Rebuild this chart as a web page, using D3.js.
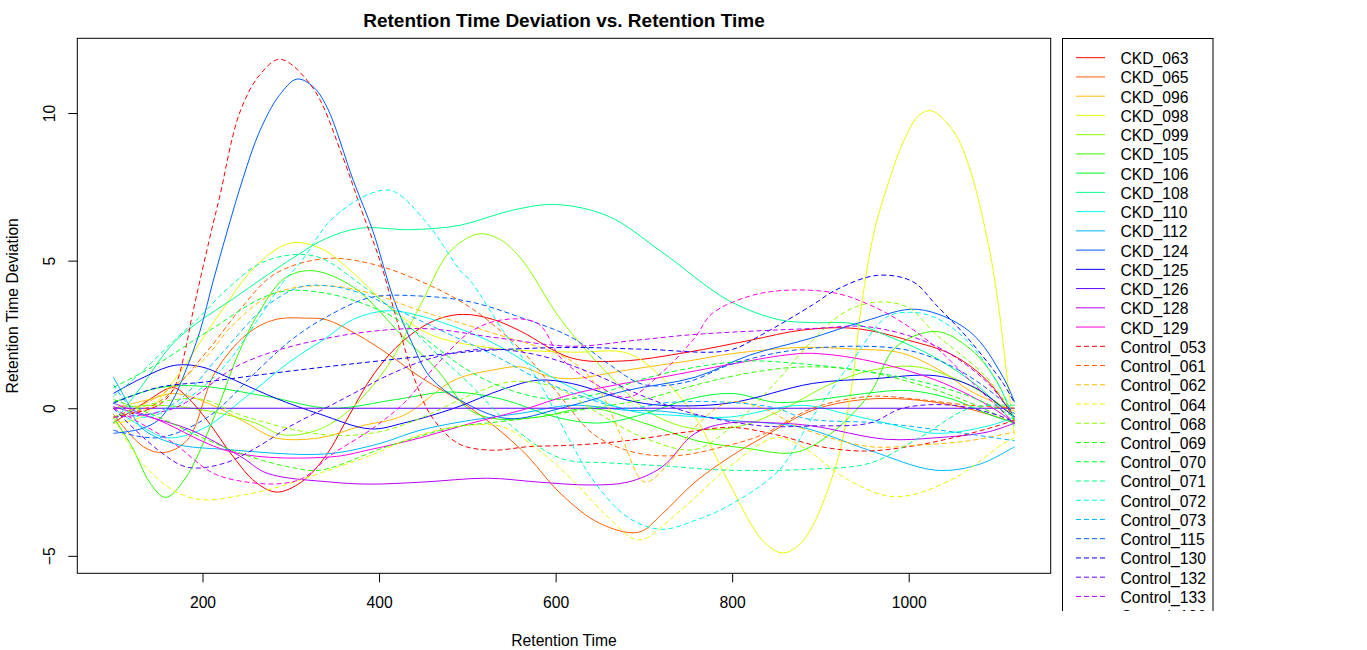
<!DOCTYPE html>
<html>
<head>
<meta charset="utf-8">
<title>Retention Time Deviation vs. Retention Time</title>
<script src="https://cdnjs.cloudflare.com/ajax/libs/d3/7.8.5/d3.min.js"></script>
<style>
    html, body { margin: 0; padding: 0; background: #fff; }
    svg { display: block; font-family: "Liberation Sans", Arial, sans-serif; }
    .curve { fill: none; stroke-width: 1; }
    .dashed { stroke-dasharray: 5, 3; }
    .frame { fill: none; stroke: #000; stroke-width: 1; }
</style>
</head>
<body>
<svg id="graph" width="1367" height="650"></svg>
<script>
/*******************************************************************
 *                              DATA                               *
 *******************************************************************/

//Raw retention time range and deviation range (before R's 4% padding)
var rtRange  = [99, 1120];
var devRange = [-4.92, 11.86];

var xTickValues = [200, 400, 600, 800, 1000];
var yTickValues = [-5, 0, 5, 10];

var ckdNames = ['CKD_063', 'CKD_065', 'CKD_096', 'CKD_098', 'CKD_099',
                'CKD_105', 'CKD_106', 'CKD_108', 'CKD_110', 'CKD_112',
                'CKD_124', 'CKD_125', 'CKD_126', 'CKD_128', 'CKD_129'];

var controlNames = ['Control_053', 'Control_061', 'Control_062', 'Control_064', 'Control_068',
                    'Control_069', 'Control_070', 'Control_071', 'Control_072', 'Control_073',
                    'Control_115', 'Control_130', 'Control_132', 'Control_133', 'Control_136'];

//[retention time, deviation], one list per CKD sample
var ckdCurves = [
    [[99,-0.5],[135,0.2],[167,0.7],[185,0.3],[205,-0.4],[235,-1.65],[260,-2.5],[284,-2.84],[312,-2.5],[340,-1.6],[365,-0.3],[395,1.2],[428,2.3],[465,3.0],[496,3.18],[530,3.0],[561,2.6],[618,1.7],[675,1.6],[750,1.9],[820,2.3],[880,2.65],[940,2.7],[1000,2.3],[1050,1.8],[1092,0.84],[1120,-0.4]],
    [[99,-0.2],[133,-1.3],[156,-1.5],[183,-1.07],[214,1.2],[250,2.5],[282,3.0],[320,3.05],[340,3.0],[375,2.5],[409,1.86],[447,1.05],[504,0.0],[561,-1.4],[606,-2.9],[650,-3.9],[694,-4.2],[720,-3.6],[758,-2.5],[800,-1.6],[834,-1.0],[891,-0.07],[950,0.3],[1000,0.3],[1050,0.1],[1090,-0.2],[1120,-0.5]],
    [[99,0.0],[140,0.3],[168,0.5],[208,0.15],[250,-0.5],[282,-1.0],[333,-1.0],[380,-0.6],[428,-0.24],[485,0.95],[530,1.3],[561,1.4],[590,1.1],[618,1.0],[682,1.3],[750,1.6],[800,1.85],[879,2.06],[940,2.0],[993,1.86],[1040,1.2],[1069,0.6],[1120,-0.1]],
    [[99,-0.5],[130,-0.3],[168,0.95],[214,2.97],[263,4.9],[301,5.6],[335,5.4],[370,4.6],[409,3.5],[458,2.5],[523,2.06],[618,1.9],[682,1.86],[720,1.05],[758,-0.3],[796,-2.5],[834,-4.46],[857,-4.9],[880,-4.5],[917,-2.0],[936,0.84],[945,3.16],[960,5.87],[975,7.45],[994,9.03],[1012,9.93],[1026,10.07],[1051,9.37],[1069,8.13],[1088,5.87],[1100,3.84],[1115,0.17],[1120,-0.9]],
    [[99,0.0],[150,0.1],[208,-0.1],[260,-0.5],[291,-0.9],[330,-0.74],[365,-0.1],[409,1.4],[447,3.5],[480,5.3],[512,5.9],[535,5.75],[560,5.1],[606,3.0],[663,1.05],[710,-0.2],[758,-0.7],[810,-0.6],[860,0.0],[910,0.8],[960,1.3],[1010,1.4],[1060,0.9],[1100,0.2],[1120,-0.3]],
    [[99,-0.3],[120,-1.3],[140,-2.5],[158,-3.02],[180,-2.4],[214,-0.24],[240,1.8],[263,3.2],[293,4.4],[324,4.66],[371,4.1],[428,2.4],[466,1.3],[500,0.0],[530,-0.35],[580,-0.3],[640,0.0],[700,-0.5],[760,-1.1],[815,-1.35],[871,-1.5],[910,-0.9],[956,0.5],[985,2.06],[1031,2.6],[1070,2.0],[1100,0.9],[1120,-0.5]],
    [[99,0.2],[152,0.7],[197,0.75],[273,0.4],[345,0.0],[420,0.3],[480,0.55],[540,0.3],[600,-0.3],[650,-0.5],[700,-0.2],[750,0.3],[800,0.5],[850,0.2],[900,0.3],[950,0.5],[1000,0.6],[1050,0.3],[1090,-0.2],[1120,-0.5]],
    [[99,-0.5],[130,0.7],[170,2.3],[244,3.9],[303,5.1],[340,5.75],[379,6.1],[436,6.05],[492,6.2],[550,6.7],[600,6.9],[660,6.5],[720,5.3],[796,3.65],[853,3.0],[891,2.9],[936,2.87],[980,2.4],[1031,1.7],[1088,0.5],[1120,-0.6]],
    [[99,0.0],[130,-0.6],[160,-1.0],[200,-0.7],[250,0.4],[300,1.6],[339,2.36],[370,3.0],[409,3.3],[450,3.1],[523,2.3],[570,1.5],[618,0.7],[682,-0.07],[740,-0.25],[796,-0.3],[879,0.1],[930,-0.2],[974,-0.5],[1031,-0.85],[1090,-0.6],[1120,-0.3]],
    [[99,1.05],[115,0.2],[130,-0.64],[168,-1.2],[228,-1.4],[339,-1.55],[400,-1.2],[447,-0.74],[505,-0.4],[561,-0.17],[618,0.1],[682,-0.07],[720,-0.1],[796,-0.4],[879,-0.65],[953,-1.4],[1031,-2.1],[1080,-1.9],[1120,-1.3]],
    [[99,-0.85],[130,-0.7],[150,-0.4],[165,0.2],[180,1.2],[197,2.6],[212,4.3],[228,6.0],[246,7.8],[265,9.4],[287,10.6],[307,11.15],[325,10.9],[341,10.2],[371,7.7],[393,6.0],[416,3.75],[436,2.3],[458,1.05],[492,0.27],[546,-0.35],[606,0.0],[680,0.6],[758,1.05],[820,1.8],[888,2.36],[950,2.95],[1010,3.35],[1069,2.6],[1107,1.05],[1120,0.2]],
    [[99,0.5],[130,1.0],[168,1.45],[199,1.4],[225,1.1],[282,0.35],[333,-0.2],[390,-0.7],[428,-0.5],[485,0.0],[541,0.65],[580,0.95],[618,0.84],[682,0.27],[720,0.1],[796,0.17],[891,0.84],[960,1.0],[1031,1.1],[1075,0.7],[1107,0.0],[1120,-0.3]],
    [[99,0.0],[1120,0.0]],
    [[99,0.05],[140,-0.3],[187,-0.74],[244,-1.65],[273,-2.2],[345,-2.5],[390,-2.57],[450,-2.5],[523,-2.37],[580,-2.5],[640,-2.6],[682,-2.5],[720,-2.0],[758,-0.85],[796,-0.5],[850,-0.5],[891,-0.6],[974,-1.05],[1031,-1.0],[1090,-0.8],[1120,-0.5]],
    [[99,0.17],[150,-0.4],[235,-1.5],[345,-1.65],[390,-1.4],[447,-1.0],[505,-0.5],[561,-0.07],[618,0.47],[670,0.8],[720,1.05],[800,1.5],[860,1.8],[891,1.86],[956,1.6],[1031,0.95],[1090,0.1],[1120,-0.5]]
];

//[retention time, deviation], one list per control sample
var controlCurves = [
    [[99,-0.3],[150,0.1],[168,0.7],[180,1.9],[188,3.1],[210,6.0],[219,7.1],[242,10.0],[265,11.3],[288,11.82],[325,10.85],[359,8.5],[379,6.8],[401,5.0],[420,3.0],[440,1.0],[460,-0.3],[490,-1.2],[527,-1.42],[570,-1.3],[620,-1.25],[680,-1.1],[750,-0.8],[800,-0.65],[850,-0.9],[900,-1.3],[950,-1.45],[1000,-1.3],[1050,-1.0],[1100,-0.6],[1120,-0.4]],
    [[99,-0.3],[150,0.2],[206,1.96],[244,3.4],[282,4.55],[339,5.07],[390,4.9],[447,4.3],[504,3.4],[560,2.0],[600,0.6],[644,-0.9],[690,-1.5],[739,-1.6],[790,-1.3],[834,-0.9],[891,0.0],[956,0.4],[1010,0.3],[1069,0.1],[1120,0.0]],
    [[99,-0.3],[150,0.4],[200,1.6],[236,2.87],[282,3.9],[339,4.15],[390,3.9],[447,3.3],[523,2.6],[618,1.6],[650,0.6],[675,-1.0],[701,-2.5],[730,-1.8],[758,-0.64],[796,0.2],[835,0.0],[879,-0.68],[956,-1.3],[1010,-1.25],[1069,-1.1],[1120,-0.8]],
    [[99,-0.3],[130,-1.8],[168,-2.8],[201,-3.1],[244,-2.95],[282,-2.7],[333,-2.2],[390,-1.6],[447,-0.9],[504,-0.57],[541,-0.64],[580,-1.4],[618,-2.4],[660,-3.7],[694,-4.46],[740,-3.5],[796,-2.0],[849,-1.0],[879,-1.3],[930,-2.4],[985,-3.0],[1050,-2.4],[1107,-1.2],[1120,-1.0]],
    [[99,-0.3],[150,0.2],[200,0.3],[244,-0.24],[339,-0.9],[400,-0.8],[450,-0.3],[500,0.4],[550,0.9],[600,0.7],[650,-0.2],[700,-1.0],[758,-1.4],[800,-0.6],[850,0.9],[891,2.3],[930,3.3],[967,3.6],[1000,3.4],[1031,2.5],[1088,1.05],[1120,-0.3]],
    [[99,0.3],[150,-0.3],[200,-1.0],[250,-1.6],[300,-2.0],[333,-2.1],[409,-1.3],[485,-0.64],[523,-0.5],[580,-0.3],[640,0.0],[700,0.3],[760,0.8],[820,1.2],[880,1.4],[940,1.3],[1000,0.9],[1060,0.3],[1120,-0.5]],
    [[99,0.7],[149,1.5],[206,2.6],[282,3.9],[339,3.9],[409,3.2],[450,2.4],[500,1.3],[550,0.6],[600,0.3],[650,0.5],[700,1.0],[760,1.4],[820,1.6],[880,1.5],[940,1.3],[1000,1.0],[1060,0.5],[1100,0.0],[1120,-0.3]],
    [[99,0.4],[130,1.2],[168,2.3],[197,3.1],[230,4.1],[265,4.9],[302,5.2],[333,5.1],[379,4.2],[420,3.2],[460,2.0],[500,0.9],[550,-0.6],[606,-1.7],[660,-1.85],[720,-1.95],[796,-2.1],[891,-2.06],[956,-1.86],[1012,-1.0],[1069,0.0],[1120,0.1]],
    [[99,0.2],[130,-0.3],[165,0.0],[218,1.2],[265,3.1],[292,4.3],[310,4.9],[348,6.45],[393,7.3],[416,7.35],[455,6.25],[492,4.66],[504,4.3],[541,2.6],[580,0.95],[618,-1.2],[644,-2.5],[682,-3.7],[720,-4.1],[758,-3.8],[796,-3.3],[853,-2.1],[891,-0.3],[936,1.6],[974,3.07],[1001,3.25],[1030,3.07],[1069,2.2],[1107,0.5],[1120,-0.4]],
    [[99,0.8],[130,-0.2],[170,0.2],[220,1.8],[270,3.4],[310,4.1],[341,4.15],[379,3.9],[430,3.2],[480,2.5],[530,1.8],[580,1.0],[630,0.4],[680,0.0],[730,0.2],[796,0.2],[850,0.0],[883,-0.35],[967,-0.5],[1050,-0.8],[1120,-1.1]],
    [[99,-0.74],[149,-1.0],[206,-0.3],[263,1.3],[300,2.3],[339,3.07],[390,3.75],[447,3.8],[504,3.6],[561,3.07],[618,2.4],[660,1.5],[700,0.8],[750,0.9],[800,1.5],[879,2.0],[993,2.0],[1050,1.4],[1100,0.4],[1120,-0.2]],
    [[99,0.17],[149,0.7],[206,0.9],[270,1.15],[339,1.4],[447,1.75],[523,1.96],[618,2.06],[700,2.0],[796,1.96],[834,2.5],[891,3.5],[917,4.0],[964,4.5],[1004,4.3],[1031,3.5],[1069,2.3],[1107,0.84],[1120,0.17]],
    [[99,0.0],[149,-1.4],[183,-2.0],[225,-1.86],[263,-1.3],[300,-0.6],[339,0.0],[371,0.5],[409,1.1],[460,1.7],[520,2.0],[580,1.8],[640,1.2],[700,0.4],[758,-0.2],[834,-0.6],[891,-0.6],[956,-0.5],[993,0.0],[1050,0.1],[1107,-0.3],[1120,-0.5]],
    [[99,-0.3],[168,0.0],[244,1.5],[339,2.36],[447,2.7],[530,2.4],[618,2.1],[690,2.3],[758,2.5],[891,2.7],[956,2.75],[1031,2.1],[1088,0.9],[1120,-0.3]],
    [[99,0.0],[135,-0.6],[168,-1.2],[212,-2.2],[250,-2.5],[290,-2.55],[315,-2.35],[345,-1.6],[390,-0.74],[428,0.17],[466,1.5],[504,2.6],[541,3.0],[580,2.87],[606,1.7],[644,0.84],[682,0.37],[720,1.2],[758,2.4],[777,3.2],[820,3.8],[864,4.0],[917,3.9],[956,3.5],[993,2.9],[1031,2.06],[1069,0.95],[1120,-0.5]]
];

(function(){
    'use strict';

    /*******************************************************************
     *                            VARIABLES                            *
     *******************************************************************/

    //Plot region edges in pixels
    var plot = { left: 77.3, right: 1050.7, top: 38.3, bottom: 573.3 };

    var fontFamily = '"Liberation Sans", Arial, sans-serif';
    var fontSize = 15.7;

    //Legend layout
    var legend = { left: 1062.5, right: 1213, top: 38.5, firstRow: 57.7, rowStep: 19.24, clipBottom: 611 };

    var svg = d3.select('#graph');
    var xScale, yScale, palette;

    draw();

    /*******************************************************************
     *                      DISPLAYING DATA                            *
     *******************************************************************/

    function draw() {
        //rainbow(15, end = 0.85) as used by xcms plotrt
        palette = d3.range(ckdNames.length).map(function(i) {
            return d3.hsl(i * 306 / (ckdNames.length - 1), 1, 0.5).formatHex();
        });

        updateScales();
        createAxes();
        drawCurves();
        drawLegend();
        drawLabels();
    }

    /**
     * R pads each axis range by 4% on both sides
     */
    function pad(range) {
        var d = (range[1] - range[0]) * 0.04;
        return [range[0] - d, range[1] + d];
    }

    function updateScales() {
        xScale = d3.scaleLinear()
            .domain(pad(rtRange))
            .range([plot.left, plot.right]);

        yScale = d3.scaleLinear()
            .domain(pad(devRange))
            .range([plot.bottom, plot.top]);
    }

    function createAxes() {
        var x = d3.axisBottom(xScale)
            .tickValues(xTickValues)
            .tickFormat(d3.format('d'))
            .tickSize(9);

        var gx = svg.append('g')
            .attr('class', 'x axis')
            .attr('transform', 'translate(0,' + plot.bottom + ')')
            .call(x);

        gx.select('.domain').remove();
        gx.attr('font-family', fontFamily).attr('font-size', fontSize);
        gx.selectAll('text')
            .attr('y', 35)
            .attr('dy', 0)
            .attr('fill', '#000');

        var y = d3.axisLeft(yScale)
            .tickValues(yTickValues)
            .tickFormat(d3.format('d'))
            .tickSize(9);

        var gy = svg.append('g')
            .attr('class', 'y axis')
            .attr('transform', 'translate(' + plot.left + ',0)')
            .call(y);

        gy.select('.domain').remove();
        gy.attr('font-family', fontFamily).attr('font-size', fontSize);
        gy.selectAll('text')
            .attr('x', 0)
            .attr('dy', 0)
            .attr('text-anchor', 'middle')
            .attr('transform', 'translate(-22.3,0) rotate(-90)')
            .attr('fill', '#000');

        svg.append('rect')
            .attr('class', 'frame')
            .attr('x', plot.left)
            .attr('y', plot.top)
            .attr('width', plot.right - plot.left)
            .attr('height', plot.bottom - plot.top);
    }

    function drawCurves() {
        svg.append('clipPath')
            .attr('id', 'plot-clip')
            .append('rect')
            .attr('x', plot.left)
            .attr('y', plot.top)
            .attr('width', plot.right - plot.left)
            .attr('height', plot.bottom - plot.top);

        var line = d3.line()
            .x(function(d) { return xScale(d[0]); })
            .y(function(d) { return yScale(d[1]); })
            .curve(d3.curveCatmullRom.alpha(0.5));

        var g = svg.append('g').attr('clip-path', 'url(#plot-clip)');

        //CKD samples first (solid), then controls (dashed) on top
        g.selectAll('path.ckd')
            .data(ckdCurves)
            .enter()
            .append('path')
            .attr('class', 'curve ckd')
            .attr('stroke', function(d, i) { return palette[i]; })
            .attr('d', line);

        g.selectAll('path.control')
            .data(controlCurves)
            .enter()
            .append('path')
            .attr('class', 'curve dashed control')
            .attr('stroke', function(d, i) { return palette[i]; })
            .attr('d', line);
    }

    function drawLegend() {
        var entries = ckdNames.map(function(name, i) {
            return { name: name, color: palette[i], dashed: false };
        }).concat(controlNames.map(function(name, i) {
            return { name: name, color: palette[i], dashed: true };
        }));

        svg.append('clipPath')
            .attr('id', 'legend-clip')
            .append('rect')
            .attr('x', legend.left - 5)
            .attr('y', 0)
            .attr('width', legend.right - legend.left + 10)
            .attr('height', legend.clipBottom);

        var g = svg.append('g').attr('clip-path', 'url(#legend-clip)');

        g.append('rect')
            .attr('class', 'frame')
            .attr('x', legend.left)
            .attr('y', legend.top)
            .attr('width', legend.right - legend.left)
            .attr('height', entries.length * legend.rowStep + 20);

        var rows = g.selectAll('g.entry')
            .data(entries)
            .enter()
            .append('g')
            .attr('class', 'entry')
            .attr('transform', function(d, i) {
                return 'translate(0,' + (legend.firstRow + i * legend.rowStep) + ')';
            });

        rows.append('line')
            .attr('class', function(d) { return d.dashed ? 'curve dashed' : 'curve'; })
            .attr('x1', 1076)
            .attr('x2', 1105)
            .attr('y1', 0)
            .attr('y2', 0)
            .attr('stroke', function(d) { return d.color; });

        rows.append('text')
            .attr('x', 1120.5)
            .attr('y', 6.5)
            .attr('font-size', fontSize)
            .attr('fill', '#000')
            .text(function(d) { return d.name; });
    }

    function drawLabels() {
        var centerX = (plot.left + plot.right) / 2;

        svg.append('text')
            .attr('x', centerX)
            .attr('y', 26.5)
            .attr('text-anchor', 'middle')
            .attr('font-size', 19)
            .attr('font-weight', 'bold')
            .attr('fill', '#000')
            .text('Retention Time Deviation vs. Retention Time');

        svg.append('text')
            .attr('x', centerX)
            .attr('y', 645.5)
            .attr('text-anchor', 'middle')
            .attr('font-size', fontSize)
            .attr('fill', '#000')
            .text('Retention Time');

        svg.append('text')
            .attr('transform', 'translate(17.5,' + ((plot.top + plot.bottom) / 2) + ') rotate(-90)')
            .attr('text-anchor', 'middle')
            .attr('font-size', fontSize)
            .attr('fill', '#000')
            .text('Retention Time Deviation');
    }
})();
</script>
</body>
</html>
